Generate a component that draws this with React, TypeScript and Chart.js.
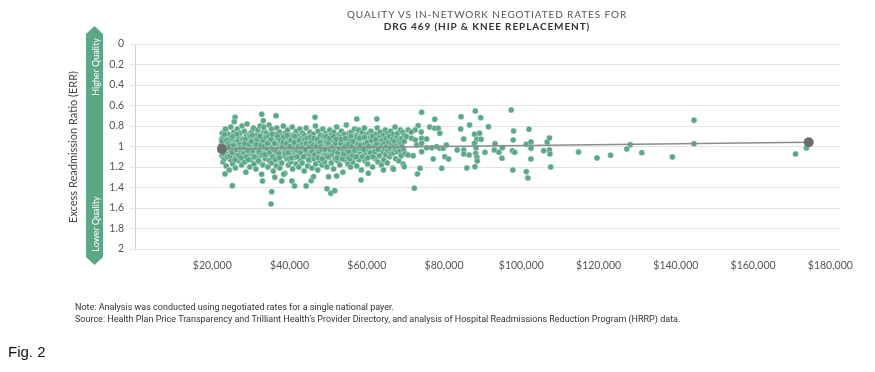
import React, { useEffect, useRef } from "react";
import { Chart, registerables } from "chart.js";

Chart.register(...registerables);

// Negotiated rate ($ thousands), Excess Readmission Ratio
const coreHospitals: [number, number][] = [
  [22.2,1.01],[22.4,0.93],[22.5,1.09],[22.6,0.87],[22.8,1.15],[22.9,0.98],[22.9,1.04],
  [23.0,0.9],[23.1,1.12],[23.2,0.96],[23.4,1.06],[23.5,0.84],[23.6,1.19],[23.8,1.0],[23.9,0.92],
  [24.0,1.08],[24.1,0.88],[24.3,1.02],[24.4,1.23],[24.5,0.95],[24.7,1.13],[24.8,0.81],[24.9,1.05],
  [25.0,0.98],[25.2,0.91],[25.3,1.17],[25.4,1.03],[25.6,0.86],[25.7,1.1],[25.8,0.94],[25.9,1.0],
  [26.0,1.21],[26.1,0.89],[26.3,1.07],[26.4,0.97],[26.5,0.83],[26.7,1.14],[26.8,1.01],[26.9,0.92],
  [27.0,1.09],[27.2,0.87],[27.3,1.04],[27.4,0.96],[27.6,1.18],[27.7,0.8],[27.8,1.0],[27.9,1.12],
  [28.0,0.93],[28.1,1.06],[28.3,0.85],[28.4,1.15],[28.5,0.99],[28.7,1.25],[28.8,0.9],[28.9,1.03],
  [29.0,0.78],[29.2,1.1],[29.3,0.95],[29.4,1.01],[29.6,0.88],[29.7,1.2],[29.8,1.07],[29.9,0.94],
  [30.0,1.13],[30.2,0.86],[30.3,1.0],[30.4,0.97],[30.6,1.08],[30.7,0.82],[30.8,1.17],[30.9,0.91],
  [31.0,1.04],[31.1,0.96],[31.3,1.22],[31.4,0.89],[31.5,1.11],[31.7,0.99],[31.8,0.84],[31.9,1.06],
  [32.0,0.93],[32.2,1.15],[32.3,1.02],[32.4,0.8],[32.6,1.09],[32.7,0.95],[32.8,1.27],[32.9,0.88],
  [33.0,1.0],[33.1,1.18],[33.3,0.91],[33.4,1.05],[33.5,0.85],[33.7,1.12],[33.8,0.97],[33.9,1.03],
  [34.0,0.87],[34.2,1.08],[34.3,0.94],[34.4,1.2],[34.6,1.0],[34.7,0.79],[34.8,1.14],[34.9,0.92],
  [35.0,1.06],[35.1,0.98],[35.3,0.83],[35.4,1.16],[35.5,1.01],[35.7,0.9],[35.8,1.24],[35.9,0.96],
  [36.0,1.1],[36.2,0.88],[36.3,1.03],[36.4,0.95],[36.6,1.19],[36.7,0.82],[36.8,1.07],[36.9,0.99],
  [37.0,0.92],[37.1,1.13],[37.3,1.0],[37.4,0.86],[37.5,1.21],[37.7,0.97],[37.8,1.05],[37.9,0.9],
  [38.0,1.16],[38.2,0.94],[38.3,1.02],[38.4,0.8],[38.6,1.09],[38.7,0.96],[38.8,1.26],[38.9,0.87],
  [39.0,1.04],[39.1,0.91],[39.3,1.12],[39.4,0.99],[39.5,0.84],[39.7,1.18],[39.8,1.01],[39.9,0.93],
  [40.0,1.07],[40.2,0.89],[40.3,1.15],[40.4,0.97],[40.6,1.03],[40.7,0.81],[40.8,1.22],[40.9,0.95],
  [41.0,1.0],[41.1,1.11],[41.3,0.88],[41.4,1.06],[41.5,0.93],[41.7,1.17],[41.8,0.85],[41.9,1.02],
  [42.0,0.96],[42.2,1.09],[42.3,0.9],[42.4,1.2],[42.6,1.01],[42.7,0.83],[42.8,1.13],[42.9,0.98],
  [43.0,1.05],[43.1,0.92],[43.3,1.16],[43.4,0.87],[43.5,1.03],[43.7,0.95],[43.8,1.24],[43.9,0.89],
  [44.0,1.1],[44.2,0.97],[44.3,0.82],[44.4,1.07],[44.6,1.0],[44.7,1.19],[44.8,0.91],[44.9,1.04],
  [45.0,0.94],[45.1,1.14],[45.3,0.86],[45.4,1.02],[45.5,1.08],[45.7,0.9],[45.8,1.21],[45.9,0.99],
  [46.0,1.06],[46.2,0.88],[46.3,1.12],[46.4,0.95],[46.6,1.01],[46.7,0.8],[46.8,1.17],[46.9,0.93],
  [47.0,1.03],[47.1,0.97],[47.3,1.23],[47.4,0.85],[47.5,1.09],[47.7,1.0],[47.8,0.91],[47.9,1.14],
  [48.0,0.89],[48.2,1.05],[48.3,0.96],[48.4,1.18],[48.6,0.83],[48.7,1.02],[48.8,1.1],[48.9,0.94],
  [49.0,1.0],[49.1,1.15],[49.3,0.87],[49.4,1.07],[49.5,0.93],[49.7,1.2],[49.8,0.98],[49.9,1.04],
  [50.0,0.9],[50.2,1.11],[50.3,1.01],[50.4,0.84],[50.6,1.06],[50.7,0.96],[50.8,1.16],[50.9,0.88],
  [51.0,1.08],[51.1,0.94],[51.3,1.03],[51.4,1.22],[51.5,0.86],[51.7,0.99],[51.8,1.12],[51.9,0.92],
  [52.0,1.05],[52.2,0.81],[52.3,0.97],[52.4,1.14],[52.6,1.0],[52.7,0.89],[52.8,1.09],[52.9,0.95],
  [53.0,1.18],[53.1,0.91],[53.3,1.02],[53.4,0.85],[53.5,1.07],[53.7,0.98],[53.8,1.25],[53.9,0.93],
  [54.0,1.04],[54.2,0.88],[54.3,1.13],[54.4,0.96],[54.6,1.0],[54.7,0.79],[54.8,1.1],[54.9,0.97],
  [55.0,0.92],[55.1,1.17],[55.3,1.03],[55.4,0.87],[55.5,1.08],[55.7,0.95],[55.8,1.2],[55.9,1.0],
  [56.0,0.86],[56.2,1.06],[56.3,0.99],[56.4,1.15],[56.6,0.9],[56.7,1.02],[56.8,0.83],[56.9,1.11],
  [57.0,0.96],[57.1,1.04],[57.3,0.89],[57.4,1.19],[57.5,1.0],[57.7,0.93],[57.8,1.08],[57.9,0.84],
  [58.0,1.13],[58.2,0.97],[58.3,1.05],[58.4,0.9],[58.6,1.23],[58.7,0.98],[58.8,0.86],[58.9,1.02],
  [59.0,1.09],[59.1,0.92],[59.3,1.0],[59.4,0.82],[59.5,1.14],[59.7,0.95],[59.8,1.06],[59.9,0.88],
  [60.0,1.01],[60.2,1.17],[60.3,0.94],[60.4,1.04],[60.6,0.87],[60.7,1.1],[60.8,0.97],[60.9,0.91],
  [61.0,1.07],[61.1,0.85],[61.3,1.02],[61.4,0.96],[61.5,1.2],[61.7,0.9],[61.8,1.04],[61.9,0.99],
  [62.0,0.93],[62.2,1.12],[62.3,0.88],[62.4,1.01],[62.6,1.06],[62.7,0.82],[62.8,0.97],[62.9,1.15],
  [63.0,1.03],[63.1,0.91],[63.3,1.09],[63.4,0.95],[63.5,0.86],[63.7,1.0],[63.8,1.18],[63.9,0.94],
  [64.0,0.98],[64.2,1.05],[64.3,0.89],[64.4,1.13],[64.6,0.96],[64.7,1.02],[64.8,0.84],[64.9,1.08],
  [65.0,0.92],[65.1,1.0],[65.3,1.16],[65.4,0.87],[65.5,1.04],[65.7,0.96],[65.8,0.9],[65.9,1.1],
  [66.0,1.02],[66.2,0.85],[66.3,0.98],[66.4,1.07],[66.6,0.93],[66.7,1.21],[66.8,1.0],[66.9,0.88],
  [67.0,1.06],[67.1,0.95],[67.3,0.81],[67.4,1.03],[67.5,1.12],[67.7,0.9],[67.8,0.99],[67.9,1.05],
  [68.0,0.87],[68.2,1.01],[68.3,1.14],[68.4,0.94],[68.6,1.04],[68.7,0.84],[68.8,0.97],[68.9,1.09],
  [69.0,0.92],[69.1,1.0],[69.3,0.86],[69.4,1.17],[69.5,1.03],[69.7,0.95],[69.8,0.89],[69.9,1.07],
];

const coreFillHospitals: [number, number][] = [
  [22.3,0.99],[22.7,1.07],[22.8,0.91],[22.5,0.95],[23.3,1.02],[23.7,0.94],[23.9,1.1],[23.2,0.88],
  [24.2,0.97],[24.6,1.09],[24.9,0.92],[24.4,1.0],[25.1,1.06],[25.5,0.99],[25.9,1.13],[25.3,0.9],
  [26.2,1.03],[26.6,0.95],[26.9,1.09],[26.4,0.88],[27.1,0.98],[27.5,1.11],[27.9,0.93],[27.3,1.01],
  [28.2,1.01],[28.6,0.93],[28.8,1.1],[28.4,0.97],[29.1,1.04],[29.5,0.98],[29.8,0.9],[29.3,1.13],
  [30.1,0.95],[30.5,1.04],[30.9,1.1],[30.3,0.89],[31.2,1.01],[31.6,0.93],[31.9,1.14],[31.4,0.98],
  [32.1,1.05],[32.5,0.99],[32.9,1.08],[32.3,0.9],[33.2,0.94],[33.6,1.08],[33.9,0.91],[33.4,1.0],
  [34.1,1.02],[34.5,0.9],[34.9,1.06],[34.3,0.97],[35.2,0.93],[35.6,1.1],[35.9,1.03],[35.4,0.88],
  [36.1,0.97],[36.5,1.05],[36.9,0.9],[36.3,1.13],[37.2,1.07],[37.6,0.94],[37.9,1.0],[37.4,1.11],
  [38.1,1.0],[38.5,0.91],[38.9,1.07],[38.3,0.96],[39.2,0.97],[39.6,1.06],[39.9,1.12],[39.4,0.89],
  [40.1,1.0],[40.5,1.11],[40.9,0.9],[40.3,0.94],[41.2,0.96],[41.6,1.04],[41.9,1.1],[41.4,0.9],
  [42.1,1.04],[42.5,0.94],[42.9,1.06],[42.3,1.0],[43.2,0.98],[43.6,1.1],[43.9,0.93],[43.4,1.01],
  [44.1,1.03],[44.5,0.92],[44.9,1.13],[44.3,0.97],[45.2,1.0],[45.6,0.96],[45.9,1.05],[45.4,0.91],
  [46.1,0.99],[46.5,1.08],[46.9,1.0],[46.3,0.92],[47.2,0.93],[47.6,1.05],[47.9,0.96],[47.4,1.11],
  [48.1,1.0],[48.5,1.12],[48.9,0.9],[48.3,1.03],[49.2,1.03],[49.6,0.96],[49.9,1.1],[49.4,0.9],
  [50.1,0.97],[50.5,1.03],[50.9,1.0],[50.3,0.92],[51.2,1.01],[51.6,1.05],[51.9,0.97],[51.4,0.9],
  [52.1,0.93],[52.5,1.06],[52.9,1.02],[52.3,1.11],[53.2,0.97],[53.6,1.12],[53.9,1.03],[53.4,0.93],
  [54.1,1.07],[54.5,0.92],[54.9,1.04],[54.3,1.0],[55.2,0.98],[55.6,1.12],[55.9,0.9],[55.4,1.05],
  [56.1,1.0],[56.5,0.95],[56.9,1.04],[56.3,1.09],[57.2,1.1],[57.6,0.98],[57.9,1.02],[57.4,0.91],
  [58.1,0.92],[58.5,1.02],[58.9,1.1],[58.3,0.99],[59.2,1.03],[59.6,0.97],[59.9,1.12],[59.4,0.91],
  [60.1,0.96],[60.5,1.0],[60.9,1.06],[60.3,1.11],[61.2,0.94],[61.6,1.1],[61.9,1.0],[61.4,0.9],
  [62.1,1.05],[62.5,0.97],[62.9,1.03],[62.3,0.93],
];

const outlierHospitals: [number, number][] = [
  [23.3,1.268],[25.2,1.382],[25.9,0.715],[25.7,0.758],[32.8,0.686],[33.2,0.748],[36.5,0.7],
  [46.6,0.715],[57.4,0.732],[62.6,0.732],[33.0,1.337],[35.4,1.441],[35.2,1.561],[38.0,1.337],
  [40.6,1.337],[41.3,1.385],[44.3,1.385],[45.6,1.334],[49.7,1.412],[50.7,1.457],[51.7,1.431],
  [52.2,1.288],[58.5,1.327],[60.4,1.261],[64.3,1.229],[66.9,1.222],[38.5,1.27],[36.2,1.3],
  [23.4,0.829],[33.3,0.81],[46.2,1.295],[50.1,1.295],[69.7,1.197],
];

const upperRateHospitals: [number, number][] = [
  [70.7,0.839],[73.3,0.797],[72.5,0.839],[71.5,0.859],[74.1,0.859],[76.3,0.81],[77.6,0.822],
  [78.5,0.822],[78.9,0.871],[70.3,0.904],[71.6,0.92],[72.6,0.937],[74.2,0.92],[75.5,0.927],
  [72.9,0.985],[74.2,0.969],[75.5,1.012],[76.8,1.012],[78.1,1.002],[78.9,1.018],[79.8,1.018],
  [80.6,0.985],[70.7,1.083],[72.0,1.09],[74.2,1.051],[77.2,1.122],[80.2,1.1],[73.8,1.213],
  [73.1,1.268],[79.4,1.213],[72.3,1.408],[74.2,0.666],[77.6,0.735],
  [84.4,0.709],[88.1,0.654],[89.5,0.719],[86.6,0.79],[84.3,0.829],[91.5,0.807],[97.4,0.644],
  [98.0,0.849],[102.0,0.832],[81.2,1.122],[85.1,0.927],[87.9,0.881],[89.2,0.871],[88.5,0.93],
  [89.6,0.93],[87.9,0.969],[88.3,1.012],[83.4,1.034],[85.1,1.034],[85.1,1.073],[86.5,1.083],
  [88.2,1.066],[88.5,1.105],[88.6,1.141],[90.6,1.057],[93.2,0.973],[93.0,1.034],[94.2,1.057],
  [95.1,1.012],[95.0,1.115],[97.9,0.937],[97.7,1.041],[98.3,1.057],[101.3,0.979],[102.5,0.956],
  [102.5,1.018],[102.5,1.122],[105.8,1.041],[106.7,0.956],[107.3,0.917],[107.3,1.034],
  [107.4,1.073],[107.6,1.2],[97.8,1.229],[101.3,1.246],[101.7,1.307],[85.9,1.21],[88.0,1.197],
  [114.8,1.054],[119.6,1.112],[123.1,1.086],[127.3,1.024],[128.2,0.982],[131.2,1.06],
  [139.1,1.102],[144.7,0.744],[144.7,0.973],[171.0,1.073],[173.8,1.015],
];

const trendRates = [22.5, 174.4];
const trendErr = [1.024, 0.959];

const xTickValues = [20000, 40000, 60000, 80000, 100000, 120000, 140000, 160000, 180000];
const yTickValues = [0, 0.2, 0.4, 0.6, 0.8, 1, 1.2, 1.4, 1.6, 1.8, 2];

const GREEN = "#5ba887";

export default function App() {
  const ref = useRef<HTMLCanvasElement | null>(null);

  useEffect(() => {
    if (!ref.current) return;
    const all = [...coreHospitals, ...coreFillHospitals, ...outlierHospitals, ...upperRateHospitals];
    const chart = new Chart(ref.current, {
      type: "scatter",
      data: {
        datasets: [
          {
            type: "line",
            data: trendRates.map((r, i) => ({ x: r * 1000, y: trendErr[i] })),
            borderColor: "#8c8c8c",
            borderWidth: 1.5,
            pointRadius: 5,
            pointBackgroundColor: "#6e6e6e",
            pointBorderWidth: 0,
            order: 0,
          } as any,
          {
            data: all.map(([r, e]) => ({ x: r * 1000, y: e })),
            backgroundColor: GREEN,
            borderColor: "rgba(255,255,255,0.7)",
            borderWidth: 0.5,
            pointRadius: 3,
            order: 1,
          },
        ],
      },
      options: {
        responsive: false,
        animation: false,
        layout: { padding: { top: 44, right: 35, left: 0, bottom: 0 } },
        plugins: { legend: { display: false }, tooltip: { enabled: false } },
        scales: {
          x: {
            type: "linear",
            min: 0,
            max: 182500,
            afterBuildTicks: (s: any) => {
              s.ticks = xTickValues.map((v) => ({ value: v }));
            },
            afterFit: (s: any) => {
              s.height = 123;
            },
            grid: { display: false },
            border: { display: false },
            ticks: {
              maxRotation: 0,
              autoSkip: false,
              padding: 2,
              color: "#555",
              font: { family: "Lato, 'Open Sans', sans-serif", size: 10.5 },
              callback: (v: any) => "$" + Number(v).toLocaleString("en-US"),
            },
          },
          y: {
            type: "linear",
            min: 0,
            max: 2,
            reverse: true,
            afterBuildTicks: (s: any) => {
              s.ticks = yTickValues.map((v) => ({ value: v }));
            },
            afterFit: (s: any) => {
              s.width = 135;
            },
            grid: { color: "#e4e4e4", tickLength: 5, lineWidth: 1 },
            border: { display: true, color: "#d4d4d4" },
            ticks: {
              padding: 6,
              color: "#555",
              font: { family: "Lato, 'Open Sans', sans-serif", size: 10.5 },
              callback: (v: any) => String(Number(Number(v).toFixed(1))),
            },
          },
        },
      },
    });
    return () => chart.destroy();
  }, []);

  const rot: React.CSSProperties = {
    position: "absolute",
    transform: "translate(-50%, -50%) rotate(-90deg)",
    whiteSpace: "nowrap",
  };

  return (
    <div
      style={{
        position: "absolute",
        left: 0,
        top: 0,
        width: 875,
        height: 372,
        background: "#fff",
        overflow: "hidden",
      }}
    >
      <canvas ref={ref} width={875} height={372} style={{ position: "absolute", left: 0, top: 0 }} />
      <div
        style={{
          position: "absolute",
          left: 487,
          top: 8,
          transform: "translateX(-50%)",
          textAlign: "center",
          fontFamily: "Lato, 'Open Sans', sans-serif",
          fontSize: 10,
          lineHeight: "12px",
          letterSpacing: 0.9,
          whiteSpace: "nowrap",
        }}
      >
        <div style={{ color: "#555" }}>QUALITY VS IN-NETWORK NEGOTIATED RATES FOR</div>
        <div style={{ color: "#333", fontWeight: 700 }}>DRG 469 (HIP &amp; KNEE REPLACEMENT)</div>
      </div>
      <div
        style={{
          ...rot,
          left: 72,
          top: 147,
          fontFamily: "Lato, 'Open Sans', sans-serif",
          fontSize: 11,
          color: "#444",
        }}
      >
        Excess Readmission Ratio (ERR)
      </div>
      <svg style={{ position: "absolute", left: 86, top: 26 }} width={17} height={239}>
        <polygon points="8.5,0 17,8 17,231 8.5,239 0,231 0,8" fill={GREEN} />
      </svg>
      <div
        style={{
          ...rot,
          left: 94.5,
          top: 67,
          fontFamily: "Lato, 'Open Sans', sans-serif",
          fontSize: 9,
          color: "#fff",
        }}
      >
        Higher Quality
      </div>
      <div
        style={{
          ...rot,
          left: 94.5,
          top: 224,
          fontFamily: "Lato, 'Open Sans', sans-serif",
          fontSize: 9,
          color: "#fff",
        }}
      >
        Lower Quality
      </div>
      <div
        style={{
          position: "absolute",
          left: 75,
          top: 301,
          fontFamily: "Roboto, 'Open Sans', sans-serif",
          fontSize: 9,
          lineHeight: "12px",
          color: "#333",
          whiteSpace: "nowrap",
        }}
      >
        <div>Note: Analysis was conducted using negotiated rates for a single national payer.</div>
        <div>
          Source: Health Plan Price Transparency and Trilliant Health’s Provider Directory, and analysis of Hospital
          Readmissions Reduction Program (HRRP) data.
        </div>
      </div>
      <div
        style={{
          position: "absolute",
          left: 8,
          top: 343,
          fontFamily: "'Liberation Sans', Arial, sans-serif",
          fontSize: 15,
          color: "#111",
          whiteSpace: "nowrap",
        }}
      >
        Fig. 2
      </div>
    </div>
  );
}
